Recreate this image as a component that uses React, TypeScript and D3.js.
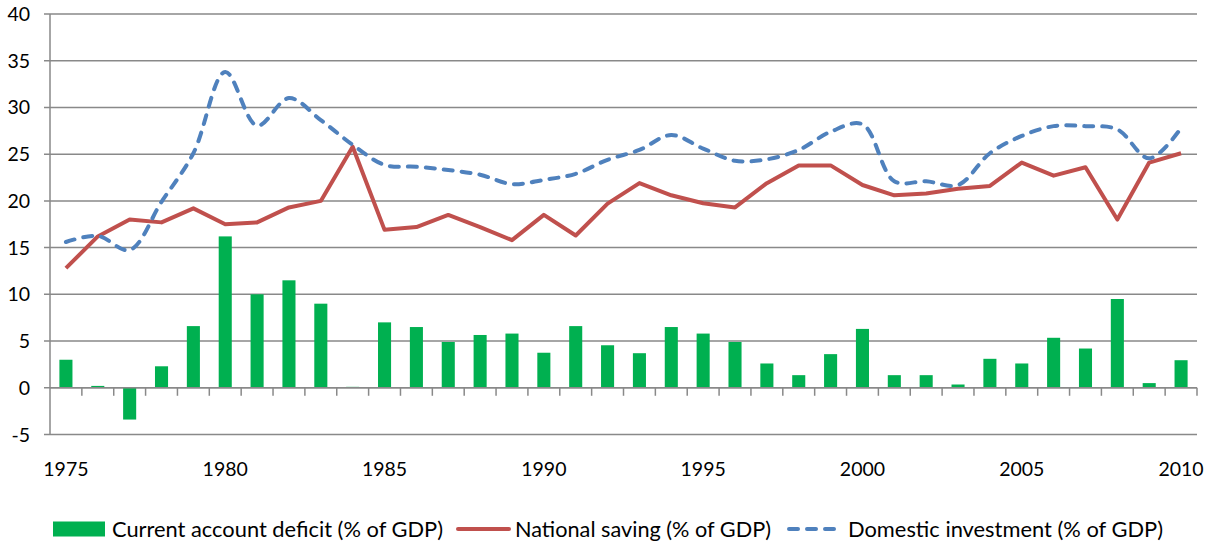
import { useEffect, useRef } from 'react'
import * as d3 from 'd3'

const years = d3.range(1975, 2011)
const deficit = [3.0, 0.2, -3.4, 2.3, 6.6, 16.2, 10.0, 11.5, 9.0, 0.1, 7.0, 6.5, 4.9, 5.65, 5.8, 3.75, 6.6, 4.55, 3.7, 6.5, 5.8, 4.9, 2.6, 1.35, 3.6, 6.3, 1.35, 1.35, 0.35, 3.1, 2.6, 5.35, 4.2, 9.5, 0.5, 2.95]
const saving = [12.8, 16.2, 18.0, 17.7, 19.2, 17.5, 17.7, 19.3, 20.0, 25.8, 16.9, 17.2, 18.5, 17.2, 15.8, 18.5, 16.3, 19.7, 21.9, 20.6, 19.75, 19.3, 21.9, 23.8, 23.8, 21.7, 20.6, 20.8, 21.3, 21.6, 24.1, 22.7, 23.6, 18.0, 24.1, 25.1]
const investment = [15.6, 16.25, 14.75, 19.9, 25.1, 33.8, 28.05, 31.0, 28.65, 26.0, 23.85, 23.65, 23.3, 22.8, 21.8, 22.25, 22.9, 24.4, 25.45, 27.05, 25.6, 24.3, 24.45, 25.45, 27.4, 28.2, 22.1, 22.1, 21.7, 25.1, 26.95, 28.0, 28.0, 27.65, 24.55, 27.8]
const yTicks = [-5, 0, 5, 10, 15, 20, 25, 30, 35, 40]
const legendLabels = ['Current account deficit (% of GDP)', 'National saving (% of GDP)', 'Domestic investment (% of GDP)']

const GREEN = '#00b050'
const RED = '#c0504d'
const BLUE = '#4f81bd'
const GRID = '#898989'
const FONT = 'Lato, "Open Sans", sans-serif'

export default function App() {
    return (
        <svg width={1207} height={544} style={{ position: 'absolute', left: 0, top: 0, background: '#fff' }}>
            <Chart />
        </svg>
    )
}

const Chart = () => {
    const ref = useRef<SVGGElement>(null)

    useEffect(() => {
        draw()
    })

    const draw = () => {
        const g = d3.select(ref.current)
        g.selectAll('*').remove()

        const left = 50, right = 1197, top = 14, bottom = 434.5

        const x = d3.scaleBand<number>()
            .domain(years)
            .range([left, right])
            .paddingInner(0.59)
            .paddingOuter(0.295)
        const cx = (d: number) => x(d)! + x.bandwidth() / 2
        const y = d3.scaleLinear().domain([-5, 40]).range([bottom, top])

        // gridlines + y labels
        g.selectAll('line.grid')
            .data(yTicks)
            .enter()
            .append('line')
            .attr('x1', left - 6)
            .attr('x2', right)
            .attr('y1', d => y(d))
            .attr('y2', d => y(d))
            .attr('stroke', GRID)
            .attr('stroke-width', 1.5)

        g.selectAll('text.ylab')
            .data(yTicks)
            .enter()
            .append('text')
            .attr('x', 30)
            .attr('y', d => y(d) + 7)
            .attr('text-anchor', 'end')
            .attr('font-family', FONT)
            .attr('font-size', 19.5)
            .attr('fill', '#000')
            .text(d => d)

        // left axis
        g.append('line')
            .attr('x1', left).attr('x2', left)
            .attr('y1', top).attr('y2', bottom)
            .attr('stroke', GRID)
            .attr('stroke-width', 1.5)

        // bars
        g.selectAll('rect.bar')
            .data(deficit)
            .enter()
            .append('rect')
            .attr('x', (d, i) => x(years[i])!)
            .attr('y', d => y(Math.max(0, d)))
            .attr('width', x.bandwidth())
            .attr('height', d => Math.abs(y(d) - y(0)))
            .attr('fill', GREEN)

        // x axis at zero with ticks between categories
        const step = x.step()
        g.append('line')
            .attr('x1', left).attr('x2', right)
            .attr('y1', y(0)).attr('y2', y(0))
            .attr('stroke', GRID)
            .attr('stroke-width', 1.5)
        g.selectAll('line.xtick')
            .data(d3.range(1, years.length + 1))
            .enter()
            .append('line')
            .attr('x1', k => left + k * step)
            .attr('x2', k => left + k * step)
            .attr('y1', y(0))
            .attr('y2', y(0) + 8)
            .attr('stroke', GRID)
            .attr('stroke-width', 1.5)

        g.selectAll('text.xlab')
            .data(years.filter(d => d % 5 === 0))
            .enter()
            .append('text')
            .attr('x', d => cx(d))
            .attr('y', 476)
            .attr('text-anchor', 'middle')
            .attr('font-family', FONT)
            .attr('font-size', 19.5)
            .text(d => d)

        // lines
        const saveLine = d3.line<number>()
            .x((d, i) => cx(years[i]))
            .y(d => y(d))
        g.append('path')
            .datum(saving)
            .attr('fill', 'none')
            .attr('stroke', RED)
            .attr('stroke-width', 4)
            .attr('stroke-linejoin', 'round')
            .attr('d', saveLine)

        const invLine = d3.line<number>()
            .x((d, i) => cx(years[i]))
            .y(d => y(d))
            .curve(d3.curveCatmullRom.alpha(0.5))
        g.append('path')
            .datum(investment)
            .attr('fill', 'none')
            .attr('stroke', BLUE)
            .attr('stroke-width', 4)
            .attr('stroke-linecap', 'round')
            .attr('stroke-dasharray', '9 9')
            .attr('d', invLine)

        // legend
        const ly = 529
        const lg = g.append('g')
        lg.append('rect').attr('x', 53).attr('y', ly - 7.5).attr('width', 52).attr('height', 15).attr('fill', GREEN)
        lg.append('line').attr('x1', 458).attr('x2', 509).attr('y1', ly).attr('y2', ly)
            .attr('stroke', RED).attr('stroke-width', 4).attr('stroke-linecap', 'round')
        lg.append('line').attr('x1', 789).attr('x2', 836).attr('y1', ly).attr('y2', ly)
            .attr('stroke', BLUE).attr('stroke-width', 4).attr('stroke-linecap', 'round')
            .attr('stroke-dasharray', '9 9')
        const lx = [112, 515, 848]
        const lw = [331, 256, 315]
        lg.selectAll('text')
            .data(legendLabels)
            .enter()
            .append('text')
            .attr('x', (d, i) => lx[i])
            .attr('y', ly + 7.5)
            .attr('font-family', FONT)
            .attr('font-size', 21.5)
            .attr('textLength', (d, i) => lw[i])
            .attr('lengthAdjust', 'spacingAndGlyphs')
            .text(d => d)
    }

    return <g ref={ref} />
}
